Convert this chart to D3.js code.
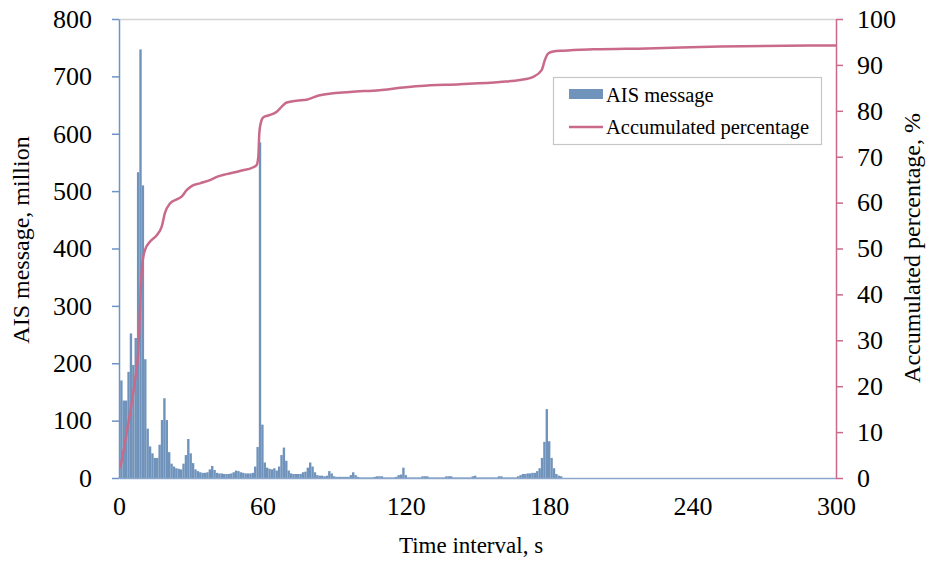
<!doctype html>
<head>
  <script src="https://cdnjs.cloudflare.com/ajax/libs/d3/7.8.5/d3.min.js"></script>
  <style>
    body { margin: 0; background: #fff; }
    svg { font-family: "Liberation Serif", "Times New Roman", serif; }
  </style>
</head>
<body>
  <svg id="chart" width="928" height="561"></svg>
  <script type="text/javascript">
    // AIS messages (million) per 1 s time interval, 0..185 s (zero afterwards)
    var messages = [
      140, 170, 135, 135, 185, 252, 197, 244, 533, 747,
      510, 207, 86, 55, 43, 35, 35, 58, 101, 139,
      101, 45, 25, 20, 17, 16, 15, 25, 40, 68,
      43, 26, 15, 12, 10, 9, 9, 10, 15, 21,
      14, 9, 8, 8, 7, 7, 7, 8, 10, 13,
      12, 10, 9, 8, 8, 8, 9, 20, 54, 585,
      93, 27, 18, 16, 15, 17, 13, 20, 40, 53,
      30, 13, 8, 7, 7, 7, 7, 10, 11, 18,
      27, 20, 10, 5, 4, 4, 3, 4, 12, 8,
      3, 2, 2, 2, 2, 2, 2, 5, 10, 5,
      2, 1, 1, 1, 1, 1, 1, 2, 3, 3,
      3, 1, 1, 1, 1, 1, 2, 5, 6, 18,
      5, 1, 1, 1, 1, 1, 1, 3, 3, 3,
      1, 1, 1, 1, 1, 1, 1, 3, 3, 3,
      1, 1, 1, 1, 1, 1, 1, 1, 3, 4,
      1, 1, 1, 1, 1, 1, 1, 1, 1, 3,
      3, 1, 1, 1, 1, 1, 1, 3, 5, 7,
      7, 8, 8, 9, 9, 12, 17, 35, 63, 120,
      64, 35, 17, 7, 4, 3
    ]

    // accumulated percentage curve, read at these times (s)
    var pctTime = [0.5, 2.5, 4.6, 6.7, 8.1, 8.5, 9.1, 9.8, 10.9, 13, 15.8, 17.9, 19.2, 21.3, 24.1, 26.2,
      28.3, 30.4, 33.9, 38, 40.9, 45, 50.6, 56.2, 57.6, 58.3, 58.7, 59.3, 60.4, 63.2, 66, 68.1,
      70.2, 74.3, 78.5, 84, 96.6, 109, 117.6, 126, 142.7, 159.4, 167.8, 173.4, 176.9, 178.2,
      179.6, 181.7, 185.9, 198.5, 220.8, 251.5, 289, 300]
    var pctValue = [2.1, 7.6, 14.1, 21.3, 27.9, 32.2, 41, 46.8, 49.7, 51.5, 52.9, 54.8, 57.7, 59.8, 60.7, 61.3,
      62.7, 63.6, 64.2, 64.9, 65.6, 66.2, 66.9, 67.7, 68.2, 70, 75.1, 77.3, 78.6, 79.1, 79.8, 80.9,
      81.8, 82.2, 82.4, 83.4, 84.1, 84.5, 85, 85.4, 85.8, 86.3, 86.7, 87.4, 88.9, 91.1,
      92.5, 92.9, 93.1, 93.4, 93.6, 94, 94.2, 94.2]

    var xTicks = [0, 60, 120, 180, 240, 300]
    var leftTicks = [0, 100, 200, 300, 400, 500, 600, 700, 800]
    var rightTicks = [0, 10, 20, 30, 40, 50, 60, 70, 80, 90, 100]

    var barColor = "#7093bb"
    var lineColor = "#c96a8b"
    var leftAxisColor = "#6f93c6"
    var font = "Liberation Serif, Times New Roman, serif"

    var pL = 119, pR = 836, pT = 19, pB = 478
    var svg = d3.select("#chart")

    var x = d3.scaleLinear().domain([0, 300]).range([pL, pR])
    var yL = d3.scaleLinear().domain([0, 800]).range([pB, pT])
    var yR = d3.scaleLinear().domain([0, 100]).range([pB, pT])

    svg.append("defs").append("clipPath").attr("id", "plot")
      .append("rect").attr("x", pL).attr("y", pT - 5)
      .attr("width", pR - pL).attr("height", pB - pT + 5)

    // top border
    svg.append("line")
      .attr("x1", pL).attr("x2", pR).attr("y1", pT + 0.5).attr("y2", pT + 0.5)
      .style("stroke", "#d4d4d4").style("stroke-width", 1.5)

    var bw = x(1) - x(0)
    svg.append("g").attr("clip-path", "url(#plot)")
      .selectAll("rect")
      .data(messages)
      .enter()
      .append("rect")
      .attr("x", (d, i) => x(i) - bw / 2)
      .attr("y", d => yL(d))
      .attr("width", bw)
      .attr("height", d => pB - yL(d))
      .style("fill", barColor)

    // x axis
    var xAxis = svg.append("g")
      .attr("transform", "translate(0," + pB + ")")
      .call(d3.axisBottom(x).tickValues(xTicks).tickSize(0).tickPadding(19))
    xAxis.select(".domain").style("stroke", "#8ca7cc").style("stroke-width", 1.5)
    xAxis.selectAll("text").style("font-size", "26px").style("fill", "#000").style("font-family", font)

    // left axis
    var lAxis = svg.append("g")
      .attr("transform", "translate(" + pL + ",0)")
      .call(d3.axisLeft(yL).tickValues(leftTicks).tickSize(7).tickSizeOuter(0).tickPadding(20))
    lAxis.select(".domain").style("stroke", leftAxisColor).style("stroke-width", 1.5)
    lAxis.selectAll("line").style("stroke", leftAxisColor).style("stroke-width", 1.5)
    lAxis.selectAll("text").style("font-size", "26px").style("fill", "#000").style("font-family", font)

    // right axis
    var rAxis = svg.append("g")
      .attr("transform", "translate(" + pR + ",0)")
      .call(d3.axisRight(yR).tickValues(rightTicks).tickSize(7).tickSizeOuter(0).tickPadding(14))
    rAxis.select(".domain").style("stroke", lineColor).style("stroke-width", 1.5)
    rAxis.selectAll("line").style("stroke", lineColor).style("stroke-width", 1.5)
    rAxis.selectAll("text").style("font-size", "26px").style("fill", "#000").style("font-family", font)

    // accumulated percentage line
    var line = d3.line()
      .x((d, i) => x(pctTime[i]))
      .y(d => yR(d))
      .curve(d3.curveMonotoneX)
    svg.append("path")
      .datum(pctValue)
      .attr("d", line)
      .style("fill", "none")
      .style("stroke", lineColor)
      .style("stroke-width", 2.5)

    // axis titles
    svg.append("text")
      .attr("transform", "translate(29,240) rotate(-90)")
      .attr("text-anchor", "middle")
      .style("font-size", "24px")
      .text("AIS message, million")
    svg.append("text")
      .attr("transform", "translate(920,248) rotate(-90)")
      .attr("text-anchor", "middle")
      .style("font-size", "24px")
      .text("Accumulated percentage, %")
    svg.append("text")
      .attr("x", 471).attr("y", 553)
      .attr("text-anchor", "middle")
      .style("font-size", "23px")
      .text("Time interval, s")

    // legend
    var lg = svg.append("g")
    lg.append("rect").attr("x", 553.5).attr("y", 77.5).attr("width", 268).attr("height", 67)
      .style("fill", "#fff").style("stroke", "#c6c6c6").style("stroke-width", 1.2)
    lg.append("rect").attr("x", 569).attr("y", 89).attr("width", 34).attr("height", 10)
      .style("fill", barColor)
    lg.append("text").attr("x", 606).attr("y", 102).style("font-size", "20.5px").text("AIS message")
    lg.append("line").attr("x1", 569).attr("x2", 603).attr("y1", 127).attr("y2", 127)
      .style("stroke", lineColor).style("stroke-width", 2.5)
    lg.append("text").attr("x", 606).attr("y", 134).style("font-size", "20.5px").text("Accumulated percentage")
  </script>
</body>
</html>
